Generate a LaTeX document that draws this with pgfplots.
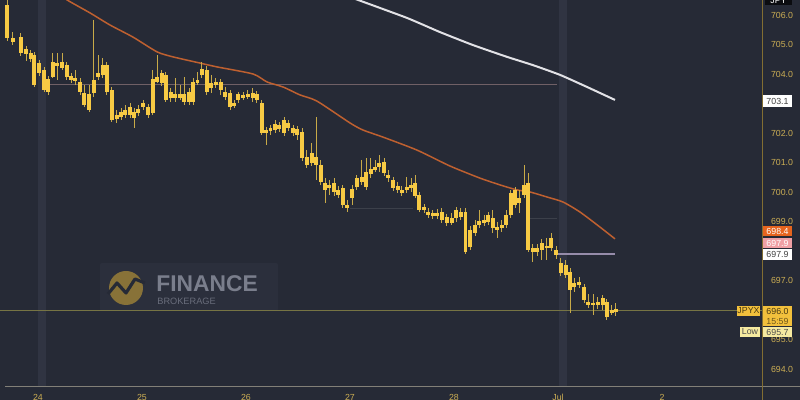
\documentclass[border=0pt]{standalone}
\usepackage{pgfplots}
\pgfplotsset{compat=1.18}
\usepackage{pgfplotstable}
\usepackage{fontspec}
\setmainfont{Liberation Sans}
\definecolor{bg}{RGB}{38,42,54}
\definecolor{strip}{RGB}{48,52,66}
\definecolor{candle}{RGB}{247,202,68}
\definecolor{wick}{RGB}{200,170,72}
\definecolor{maorange}{RGB}{190,96,48}
\definecolor{mawhite}{RGB}{226,226,230}
\definecolor{gold}{RGB}{204,174,84}
\definecolor{hlineA}{RGB}{112,96,102}
\definecolor{hlineB}{RGB}{150,140,170}
\definecolor{pline}{RGB}{118,116,68}
\definecolor{botline}{RGB}{130,128,120}
\definecolor{vline}{RGB}{130,110,50}
\definecolor{wmrect}{RGB}{43,47,60}
\definecolor{wmtext}{RGB}{122,126,140}
\definecolor{wmlogo}{RGB}{136,114,56}
\definecolor{boxorange}{RGB}{230,100,30}
\definecolor{boxpink}{RGB}{240,160,165}
\definecolor{boxyellow}{RGB}{242,192,60}
\definecolor{boxlow}{RGB}{246,234,160}

\pgfplotstableread{
x o h l c
7 706.34 706.51 705.12 705.22
12.7 705.22 705.42 704.98 705.08
20.7 705.25 705.39 704.64 704.71
26 704.85 704.98 704.47 704.68
30.7 704.71 704.81 704.41 704.51
34.3 704.64 704.74 703.56 703.63
39.3 704.37 704.47 703.93 704.03
44 704.14 704.24 703.39 703.46
48.3 703.83 703.93 703.29 703.39
52.7 703.90 704.71 703.86 704.41
57 704.37 704.71 703.80 704.27
62.3 704.20 704.71 704.14 704.41
66.7 704.30 704.41 703.80 703.90
71 703.93 704.03 703.69 703.80
75 703.86 704.14 703.63 703.76
80 703.73 703.86 703.29 703.39
84.3 703.36 703.63 702.88 702.95
89.3 703.32 703.63 702.71 702.78
93.8 703.36 705.83 703.22 703.80
98.3 703.90 704.64 703.80 704.03
102.7 703.97 704.54 703.86 704.30
106.7 704.30 704.41 703.29 703.39
111.7 703.46 703.56 702.37 702.44
116.7 702.47 702.78 702.37 702.61
121 702.54 702.85 702.44 702.71
125 702.64 702.95 702.51 702.81
130 702.88 703.02 702.51 702.61
134.3 702.71 702.85 702.20 702.51
138.3 702.68 702.95 702.58 702.81
143.3 702.88 703.12 702.78 703.02
148.3 702.88 702.98 702.51 702.61
152.7 702.68 704.14 702.61 703.83
157.3 703.73 704.64 703.69 703.90
161.7 703.69 704.14 703.59 704.03
165.7 703.97 704.07 703.05 703.12
170.7 703.39 703.53 703.05 703.19
175 703.19 703.86 703.05 703.32
180 703.32 703.63 703.12 703.19
184.3 703.32 703.90 702.95 703.05
189 703.05 703.53 702.95 703.39
193.3 703.05 703.86 702.95 703.73
197.5 703.73 704.07 703.63 703.80
201.7 703.97 704.41 703.86 704.20
206.7 704.14 704.30 703.29 703.39
211 703.69 703.97 703.36 703.53
215.7 703.63 703.86 703.53 703.73
220.7 703.73 703.83 703.29 703.46
225 703.39 703.56 703.12 703.22
230 703.36 703.46 702.78 702.88
234 703.02 703.12 702.85 702.95
238.3 703.12 703.39 703.02 703.32
243.3 703.29 703.39 703.12 703.19
247.7 703.22 703.46 703.15 703.32
252.7 703.19 703.53 703.05 703.36
256.7 703.32 703.42 703.02 703.12
261.7 703.02 703.12 701.93 702.03
266 702.10 702.20 701.59 702.00
270.5 702.07 702.27 701.93 702.17
275 702.10 702.44 702.00 702.30
279.3 702.27 702.37 702.03 702.14
284.3 702.00 702.54 701.90 702.44
288.3 702.34 702.44 702.07 702.17
293.3 702.17 702.27 701.90 702.00
297.3 702.14 702.24 701.76 701.93
302.3 702.03 702.17 701.08 701.15
306.7 701.19 701.42 700.81 700.92
311.7 700.98 701.66 700.88 701.32
316 701.19 702.54 700.41 700.92
320.7 700.92 701.08 700.24 700.34
325 700.30 700.47 699.63 700.07
329.3 700.14 700.41 699.90 700.24
334 700.30 700.47 699.86 700.00
338.3 700.07 700.20 699.80 699.90
342.7 700.14 700.24 699.46 699.56
347.3 699.56 699.73 699.32 699.46
352.3 699.80 700.24 699.56 700.10
356.7 700.17 700.58 700.07 700.47
361.7 700.34 701.08 700.24 700.51
366 700.17 701.15 700.07 700.68
370.7 700.64 701.15 700.47 700.81
375 700.78 701.08 700.68 700.85
379.3 700.85 701.25 700.68 700.98
384 701.02 701.15 700.55 700.64
388.3 700.58 700.75 700.34 700.47
393.3 700.41 700.51 700.04 700.14
397.7 700.20 700.34 699.97 700.07
401.7 700.07 700.20 699.86 699.97
406.7 700.07 700.51 699.97 700.17
411 700.14 700.47 700.00 700.24
415 700.30 700.58 699.80 699.86
419.3 699.90 700.00 699.32 699.39
424 699.49 699.59 699.29 699.39
428.3 699.32 699.46 699.12 699.22
432.7 699.29 699.39 699.09 699.19
437.3 699.19 699.42 699.09 699.29
441.7 699.32 699.46 698.95 699.05
446.7 699.15 699.25 698.85 698.95
451.7 698.98 699.29 698.88 699.15
456 699.12 699.49 698.98 699.39
460.7 699.32 699.46 699.05 699.15
465.5 699.32 699.46 697.91 697.97
470 698.14 698.85 698.03 698.71
475 698.61 699.05 698.51 698.88
479.3 698.88 699.39 698.78 699.02
484 699.05 699.22 698.85 698.95
488.3 698.98 699.32 698.88 699.22
492.7 699.12 699.39 698.64 698.78
497.3 698.81 698.98 698.44 698.71
501.7 698.78 699.05 698.64 698.88
506 698.88 699.39 698.78 699.22
510.7 699.22 700.07 699.12 699.97
515 699.56 700.17 699.46 700.07
519.3 699.80 700.07 699.29 699.63
524 699.90 700.92 699.80 700.24
528.3 700.30 700.64 697.97 698.03
532.7 698.10 698.24 697.63 697.97
537.3 697.97 698.24 697.83 698.10
541.7 698.03 698.41 697.69 698.27
546.7 698.17 698.44 697.69 698.10
551 698.10 698.61 698.00 698.47
556 698.03 698.17 697.76 697.86
560.7 697.59 697.76 697.15 697.25
565.7 697.53 697.69 697.09 697.19
570 697.29 697.42 695.90 696.68
574.3 696.78 697.08 696.61 696.92
579 696.95 697.12 696.75 696.85
584 696.78 696.88 696.24 696.34
588.3 696.27 696.54 696.07 696.17
593.3 696.24 696.54 695.83 696.17
597.7 696.17 696.44 696.04 696.27
602.7 696.41 696.51 696.00 696.17
606.7 696.27 696.37 695.66 695.76
611.7 695.93 696.17 695.83 696.00
615.7 695.97 696.24 695.80 696.00
}\candles

\begin{document}
\begin{tikzpicture}
\fill[bg] (0,0) rectangle (400pt,200pt);
\useasboundingbox (0,0) rectangle (400pt,200pt);
% watermark (pixel units)
\begin{scope}[x=0.5pt,y=-0.5pt,yshift=200pt]
  \fill[wmrect, rounded corners=1pt] (100,263) rectangle (278,311);
  \fill[wmlogo] (126,288) circle (17);
  \draw[bg, line width=1.6pt, line join=round] (108,294) -- (117,283) -- (126,293) -- (135,279) -- (145,283);
  \node[anchor=west, inner sep=0, text=wmtext, font=\bfseries\fontsize{11.4}{12}\selectfont] at (156,284) {FINANCE};
  \node[anchor=west, inner sep=0, text=wmtext!80!bg, font=\fontsize{4.6}{5}\selectfont] at (157,301) {BROKERAGE};
\end{scope}
\begin{axis}[
  at={(0,6.5pt)}, anchor=south west,
  scale only axis, width=381pt, height=193.5pt,
  xmin=0, xmax=762, ymin=693.39, ymax=706.508,
  axis line style={draw=none},
  major tick length=0pt,
  /pgf/number format/assume math mode=true,
  ytick={694,695,697,699,700,701,702,704,705,706},
  yticklabel pos=right,
  yticklabel style={text=gold, font=\fontsize{4.4}{5}\selectfont, xshift=1pt,
    /pgf/number format/.cd, fixed, fixed zerofill, precision=1, /tikz/.cd},
  xtick={38,142,246,350,454,558,662},
  xticklabels={24,25,26,27,28,Jul,2},
  xticklabel style={text=gold, font=\fontsize{4.4}{5}\selectfont, text height=3.3pt, text depth=0pt, yshift=0.2pt},
]
% session strips
\fill[strip] (axis cs:38,693.39) rectangle (axis cs:46,706.6);
\fill[strip] (axis cs:559,693.39) rectangle (axis cs:567,706.6);
% faint levels
\addplot[color=hlineA, line width=0.6pt] coordinates {(45,703.63) (557,703.63)};
\addplot[color=bg!70!white, line width=0.3pt, opacity=0.35] coordinates {(350,699.46) (413,699.46)};
\addplot[color=bg!70!white, line width=0.3pt, opacity=0.35] coordinates {(530,699.12) (557,699.12)};
\addplot[color=hlineB, line width=0.8pt] coordinates {(557,697.90) (615,697.90)};
\addplot[color=pline, line width=0.4pt] coordinates {(0,696.0) (762,696.0)};
% moving averages
\addplot[color=maorange, line width=0.75pt, smooth, tension=0.4] coordinates {
(60,706.70)(67,706.51)(90,706.07)(110,705.66)(133,705.25)(157,704.75)(173,704.58)(200,704.37)(217,704.24)(253,704.00)(267,703.73)(283,703.56)(300,703.29)(317,703.08)(350,702.34)(363,702.10)(383,701.86)(417,701.42)(450,700.88)(480,700.47)(500,700.24)(517,700.07)(530,700.00)(547,699.83)(563,699.66)(580,699.32)(600,698.81)(615,698.41)};
\addplot[color=mawhite, line width=1pt, smooth, tension=0.3] coordinates {
(350,706.61)(358,706.51)(407,705.90)(440,705.42)(473,704.98)(507,704.58)(533,704.30)(560,703.97)(587,703.56)(615,703.12)};
% wicks
\addplot[draw=none, mark=none, error bars/.cd, y dir=both, y explicit, error mark=none,
  error bar style={line width=0.45pt, draw=wick}]
  table[x=x, y expr=(\thisrow{h}+\thisrow{l})/2, y error expr=(\thisrow{h}-\thisrow{l})/2] {\candles};
% bodies
\addplot[draw=none, mark=none, error bars/.cd, y dir=both, y explicit, error mark=none,
  error bar style={line width=1.85pt, draw=candle}]
  table[x=x, y expr=(\thisrow{o}+\thisrow{c})/2, y error expr={max(abs(\thisrow{o}-\thisrow{c})/2,0.045)}] {\candles};
\end{axis}
% axis borders and price labels (pixel units)
\begin{scope}[x=0.5pt,y=-0.5pt,yshift=200pt]
  \draw[botline, line width=0.5pt] (5,387) -- (800,387);
  \draw[vline, line width=0.5pt] (762,0) -- (762,400);
  \tikzset{pl/.style={inner sep=0, font=\fontsize{4.4}{5}\selectfont}}
  \fill[black!70!bg] (765,-4) rectangle (792,5);
  \node[pl, text=white] at (778.5,1) {JPY};
  \fill[white] (763,95) rectangle (792,107);
  \node[pl, text=black!75] at (777.5,101) {703.1};
  \fill[boxorange] (763,226) rectangle (792,236);
  \node[pl, text=white] at (777.5,231) {698.4};
  \fill[boxpink] (763,238) rectangle (792,248);
  \node[pl, text=white] at (777.5,243) {697.9};
  \fill[white] (763,249) rectangle (792,260);
  \node[pl, text=black!75] at (777.5,254.5) {697.9};
  \fill[boxyellow] (737,306) rectangle (760,316);
  \node[pl, text=black!70!boxyellow] at (748.5,311) {JPYX};
  \fill[boxyellow] (763,306) rectangle (792,326);
  \node[pl, text=black!70!boxyellow] at (777.5,311) {696.0};
  \node[pl, text=black!55!boxyellow] at (777.5,321) {15:59};
  \fill[boxlow] (740,327) rectangle (760,337);
  \node[pl, text=black!70] at (750,332) {Low};
  \fill[boxlow] (763,327) rectangle (792,337);
  \node[pl, text=black!70] at (777.5,332) {695.7};
\end{scope}
\end{tikzpicture}
\end{document}
